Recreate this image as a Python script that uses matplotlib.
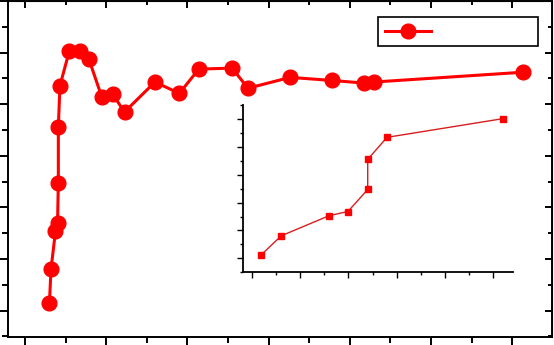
import matplotlib
matplotlib.use("Agg")
import matplotlib.pyplot as plt
from matplotlib.ticker import MultipleLocator

# main curve (no axis labels in the source)
main_x = [6.0, 6.4, 7.5, 8.0, 8.2, 8.2, 8.6, 10.9, 13.5, 15.7, 18.9, 21.6, 24.5,
          32.0, 38.0, 42.8, 51.0, 54.9, 65.3, 75.6, 83.5, 86.0, 122.7]
main_y = [1.4, 8.1, 15.4, 16.9, 24.8, 35.6, 43.6, 50.3, 50.3, 48.8, 41.4, 41.9, 38.5,
          44.3, 42.1, 46.8, 47.0, 43.1, 45.2, 44.6, 44.1, 44.3, 46.2]

# inset curve
inset_x = [1.9, 6.1, 16.0, 19.9, 24.0, 24.0, 28.0, 52.0]
inset_y = [11.2, 18.1, 25.3, 26.8, 34.7, 45.5, 53.4, 60.1]

W, H = 554, 345
fig = plt.figure(figsize=(W / 100, H / 100), dpi=100)

# main axes
ax = fig.add_axes([8 / W, (H - 336.7) / H, (552 - 8) / W, (336.7 - 1) / H])
line, = ax.plot(main_x, main_y, color="red", lw=2.2, marker="o", ms=10.6,
                mfc="red", mec="red")
ax.set_xlim(-4.2, 129.8)
ax.set_ylim(-5.05, 60.0)
ax.xaxis.set_major_locator(MultipleLocator(20))
ax.xaxis.set_minor_locator(MultipleLocator(10))
ax.yaxis.set_major_locator(MultipleLocator(10))
ax.yaxis.set_minor_locator(MultipleLocator(5))
for s in ax.spines.values():
    s.set_linewidth(1.4)
ax.tick_params(which="both", direction="out", top=False, right=False,
               labelbottom=False, labelleft=False, width=1.4)
ax.tick_params(which="major", length=6)
ax.tick_params(which="minor", length=4)

# mirrored inward ticks on top and right
top = ax.secondary_xaxis("top")
top.xaxis.set_major_locator(MultipleLocator(20))
top.xaxis.set_minor_locator(MultipleLocator(10))
top.tick_params(which="both", direction="in", labeltop=False, width=1.4)
top.tick_params(which="major", length=5)
top.tick_params(which="minor", length=3)
right = ax.secondary_yaxis("right")
right.yaxis.set_major_locator(MultipleLocator(10))
right.yaxis.set_minor_locator(MultipleLocator(5))
right.tick_params(which="both", direction="in", labelright=False, width=1.4)
right.tick_params(which="major", length=5)
right.tick_params(which="minor", length=3)

leg = ax.legend([line], [" "], loc="upper left", mode="expand",
                bbox_to_anchor=((378 - 8) / 544, (336.7 - 17) / 335.7,
                                (538 - 378) / 544, 0.0),
                borderaxespad=0, handlelength=3.0, fontsize=11,
                fancybox=False, framealpha=1, edgecolor="black",
                borderpad=0.45)
leg.get_frame().set_linewidth(1.2)

# inset axes
ins = fig.add_axes([242.7 / W, (H - 272.3) / H, (513 - 242.7) / W, (272.3 - 105) / H])
ins.plot(inset_x, inset_y, color="#d81e1e", lw=1.0, marker="s", ms=4.5,
         mfc="red", mec="red")
ins.set_xlim(-1.9, 54.1)
ins.set_ylim(5, 65)
ins.xaxis.set_major_locator(MultipleLocator(10))
ins.xaxis.set_minor_locator(MultipleLocator(5))
ins.yaxis.set_major_locator(MultipleLocator(10))
ins.yaxis.set_minor_locator(MultipleLocator(5))
ins.spines["top"].set_visible(False)
ins.spines["right"].set_visible(False)
for s in ("left", "bottom"):
    ins.spines[s].set_linewidth(1.3)
ins.patch.set_alpha(0)
ins.tick_params(which="both", direction="out", labelbottom=False,
                labelleft=False, width=1.0)
ins.tick_params(which="major", length=4)
ins.tick_params(which="minor", length=2.5)

fig.savefig("out.png", dpi=100)
